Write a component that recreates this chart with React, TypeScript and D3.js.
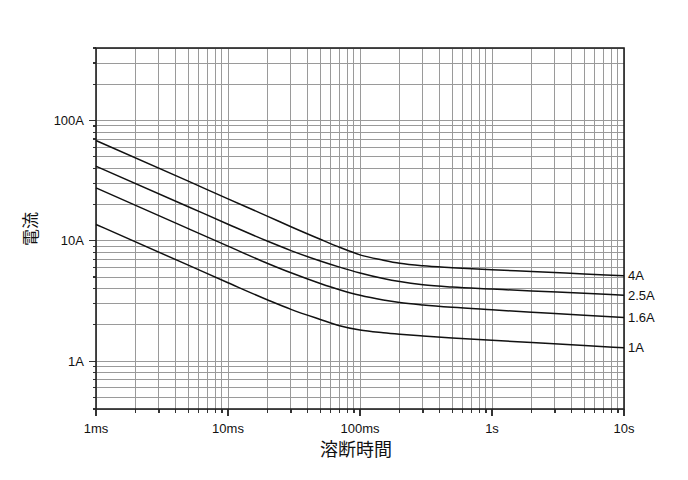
import * as d3 from "d3";

// fusing time (s) shared by every curve
const TIMES = [0.001, 0.005, 0.01, 0.02, 0.03, 0.05, 0.07, 0.1, 0.15, 0.2, 0.3, 0.5, 1, 2, 5, 10];

// current (A), one array per fuse rating
const CURRENT_4A = [68.1, 31.3, 22.3, 15.97, 13.08, 10.29, 8.83, 7.64, 6.9, 6.5, 6.19, 5.98, 5.75, 5.56, 5.3, 5.11];
const CURRENT_2_5A = [41.6, 19.2, 13.73, 9.9, 8.29, 6.79, 6.04, 5.4, 4.86, 4.58, 4.31, 4.12, 3.97, 3.83, 3.66, 3.53];
const CURRENT_1_6A = [27.5, 12.61, 9.03, 6.48, 5.42, 4.42, 3.92, 3.52, 3.22, 3.07, 2.93, 2.8, 2.67, 2.55, 2.4, 2.3];
const CURRENT_1A = [13.67, 6.27, 4.48, 3.22, 2.69, 2.22, 1.97, 1.813, 1.721, 1.672, 1.616, 1.555, 1.488, 1.426, 1.349, 1.29];

const SERIES_LABELS = ["4A", "2.5A", "1.6A", "1A"];
const SERIES_VALUES = [CURRENT_4A, CURRENT_2_5A, CURRENT_1_6A, CURRENT_1A];

const X_TICKS = [0.001, 0.01, 0.1, 1, 10];
const X_TICK_LABELS = ["1ms", "10ms", "100ms", "1s", "10s"];
const Y_TICKS = [1, 10, 100];
const Y_TICK_LABELS = ["1A", "10A", "100A"];

const X_TITLE = "溶断時間";
const Y_TITLE = "電流";

const W = 688;
const H = 480;
const PLOT = { left: 96, right: 624, top: 48, bottom: 409 };
const LABEL_FONT = "'Liberation Sans', Arial, sans-serif";
const CJK_FONT = "'Noto Sans CJK JP', sans-serif";

// 1..9 × each decade, clipped to the domain
function logSteps(lo: number, hi: number) {
  const out: number[] = [];
  for (let e = Math.floor(Math.log10(lo)); e <= Math.ceil(Math.log10(hi)); e++) {
    for (let m = 1; m <= 9; m++) {
      const v = m * Math.pow(10, e);
      if (v >= lo * 0.9999 && v <= hi * 1.0001) out.push(+v.toPrecision(6));
    }
  }
  return out;
}

export default function App() {
  const x = d3.scaleLog().domain([0.001, 10]).range([PLOT.left, PLOT.right]);
  const y = d3.scaleLog().domain([0.4, 400]).range([PLOT.bottom, PLOT.top]);

  const xGrid = logSteps(0.001, 10);
  const yGrid = logSteps(0.4, 400);

  const line = d3
    .line<[number, number]>()
    .x((d) => x(d[0]))
    .y((d) => y(d[1]))
    .curve(d3.curveMonotoneX);

  return (
    <svg
      width={W}
      height={H}
      style={{ position: "absolute", left: 0, top: 0, background: "#fff" }}
    >
      {/* grid */}
      <g stroke="#9a9a9a" strokeWidth={1} shapeRendering="crispEdges">
        {xGrid.map((v) => (
          <line key={"gx" + v} x1={x(v)} x2={x(v)} y1={PLOT.top} y2={PLOT.bottom} />
        ))}
        {yGrid.map((v) => (
          <line key={"gy" + v} x1={PLOT.left} x2={PLOT.right} y1={y(v)} y2={y(v)} />
        ))}
      </g>

      {/* ticks */}
      <g stroke="#333" strokeWidth={1.2} shapeRendering="crispEdges">
        {xGrid.map((v) => {
          const major = X_TICKS.some((t) => Math.abs(t - v) < t * 1e-6);
          return (
            <line key={"tx" + v} x1={x(v)} x2={x(v)} y1={PLOT.bottom} y2={PLOT.bottom + (major ? 7 : 3.5)} />
          );
        })}
        {yGrid.map((v) => {
          const major = Y_TICKS.some((t) => Math.abs(t - v) < t * 1e-6);
          return (
            <line key={"ty" + v} x1={PLOT.left - (major ? 7 : 3.5)} x2={PLOT.left} y1={y(v)} y2={y(v)} />
          );
        })}
      </g>

      {/* frame */}
      <rect
        x={PLOT.left}
        y={PLOT.top}
        width={PLOT.right - PLOT.left}
        height={PLOT.bottom - PLOT.top}
        fill="none"
        stroke="#222"
        strokeWidth={1.6}
      />

      {/* curves */}
      <g fill="none" stroke="#111" strokeWidth={1.5}>
        {SERIES_VALUES.map((vals, i) => (
          <path key={SERIES_LABELS[i]} d={line(TIMES.map((t, j) => [t, vals[j]] as [number, number])) || ""} />
        ))}
      </g>

      {/* series labels */}
      <g fontFamily={LABEL_FONT} fontSize={13} fill="#111">
        {SERIES_VALUES.map((vals, i) => (
          <text key={"l" + i} x={PLOT.right + 4} y={y(vals[vals.length - 1])} dy="0.35em">
            {SERIES_LABELS[i]}
          </text>
        ))}
      </g>

      {/* tick labels */}
      <g fontFamily={LABEL_FONT} fontSize={13} fill="#111">
        {X_TICKS.map((v, i) => (
          <text key={"xl" + v} x={x(v)} y={PLOT.bottom + 24} textAnchor="middle">
            {X_TICK_LABELS[i]}
          </text>
        ))}
        {Y_TICKS.map((v, i) => (
          <text key={"yl" + v} x={PLOT.left - 12} y={y(v)} dy="0.35em" textAnchor="end">
            {Y_TICK_LABELS[i]}
          </text>
        ))}
      </g>

      {/* axis titles */}
      <text
        x={(PLOT.left + PLOT.right) / 2 - 4}
        y={456}
        textAnchor="middle"
        fontFamily={CJK_FONT}
        fontSize={18}
        fill="#111"
      >
        {X_TITLE}
      </text>
      <text
        transform={`translate(37,229) rotate(-90)`}
        textAnchor="middle"
        fontFamily={CJK_FONT}
        fontSize={17}
        fill="#111"
      >
        {Y_TITLE}
      </text>
    </svg>
  );
}
